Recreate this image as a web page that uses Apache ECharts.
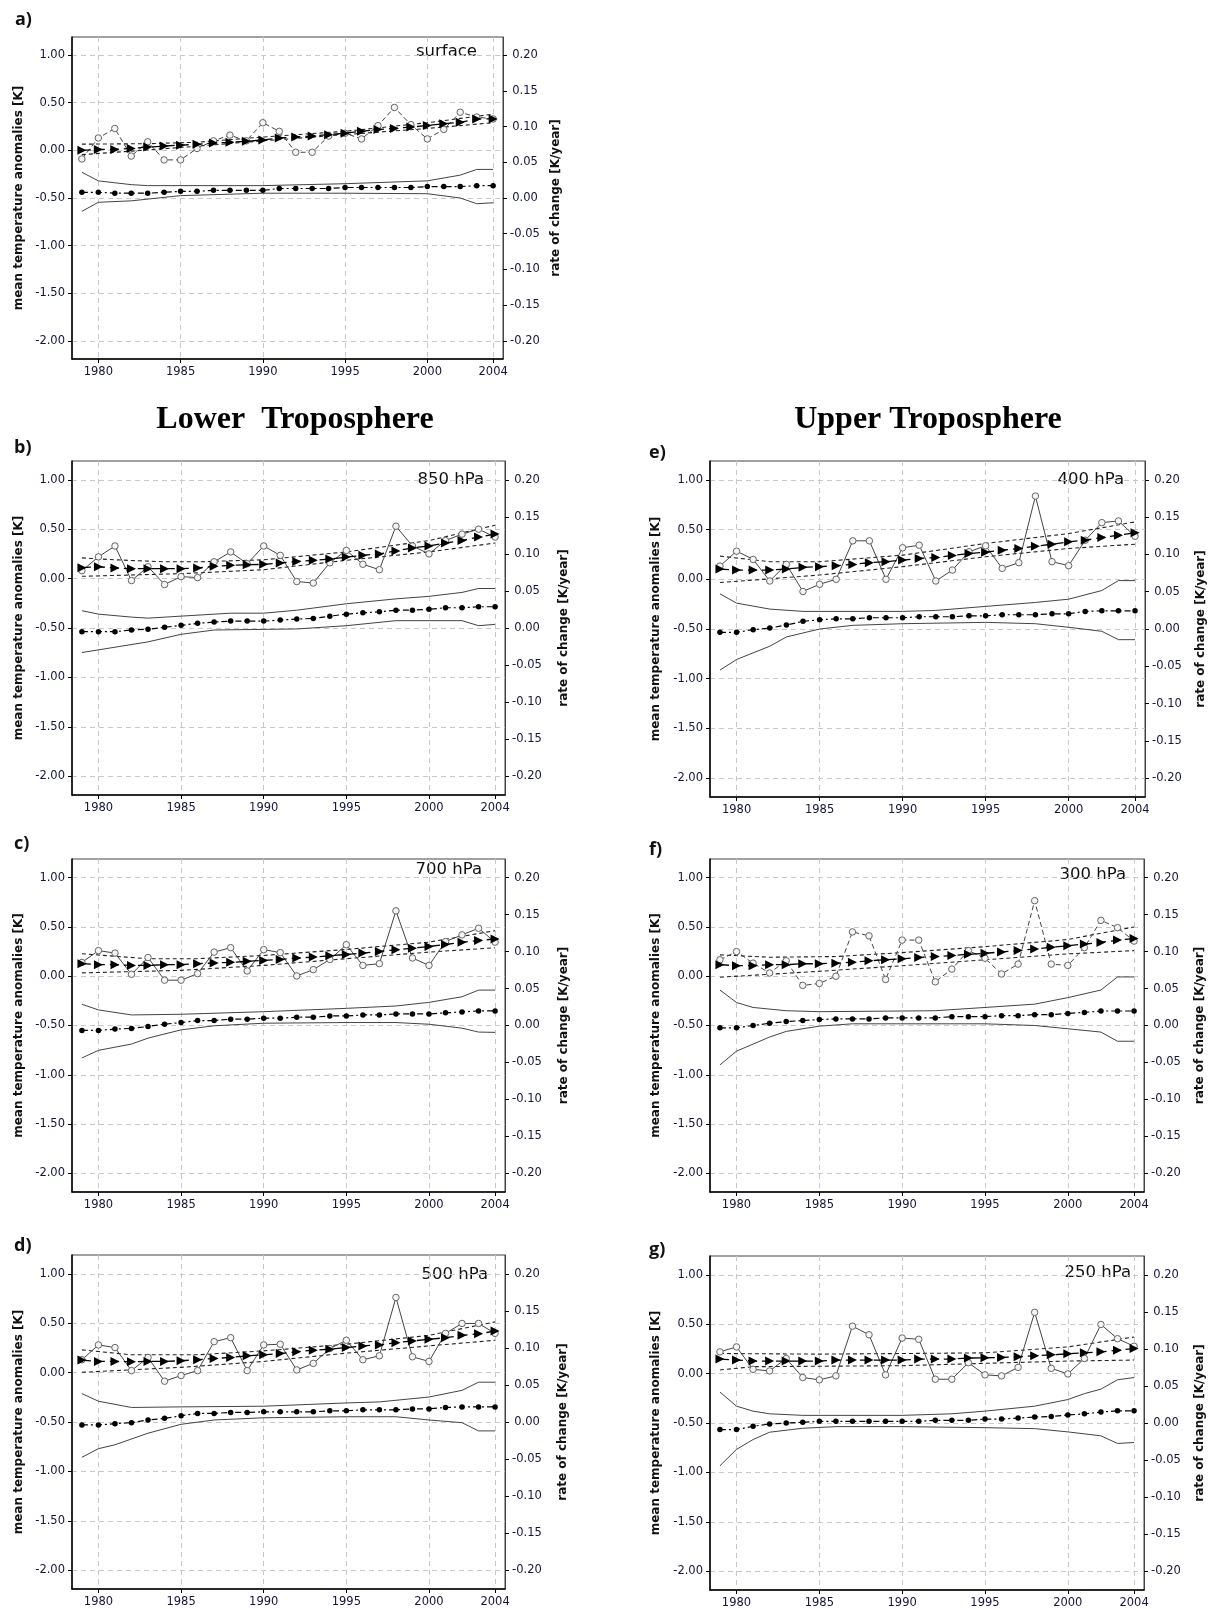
<!DOCTYPE html>
<html><head><meta charset="utf-8">
<script src="https://cdn.jsdelivr.net/npm/echarts@6/dist/echarts.min.js"></script>
<style>html,body{margin:0;padding:0;background:#fff}#c{width:1214px;height:1609px}</style>
</head><body><div id="c"></div>
<script>
// ---------- shared axes ----------
const years = [1979,1980,1981,1982,1983,1984,1985,1986,1987,1988,1989,1990,1991,1992,1993,1994,1995,1996,1997,1998,1999,2000,2001,2002,2003,2004];
const xTicks = [1980,1985,1990,1995,2000,2004];
const anomTicks = [-2,-1.5,-1,-0.5,0,0.5,1];
const rateTicks = [-0.2,-0.15,-0.1,-0.05,0,0.05,0.1,0.15,0.2];
const sectionTitles = ['Lower  Troposphere','Upper Troposphere'];
const levelNames = ['surface','850 hPa','700 hPa','500 hPa','400 hPa','300 hPa','250 hPa'];
const panelTags = ['a)','b)','c)','d)','e)','f)','g)'];

// ---------- a) surface ----------
const surfAnom = [-0.09,0.13,0.23,-0.06,0.09,-0.10,-0.10,0.02,0.10,0.16,0.10,0.29,0.20,-0.02,-0.02,0.15,0.18,0.12,0.26,0.45,0.27,0.12,0.22,0.40,0.35,0.33];
const surfTrend = [0.00,0.01,0.01,0.02,0.035,0.045,0.055,0.063,0.077,0.084,0.095,0.11,0.13,0.14,0.15,0.165,0.18,0.20,0.22,0.23,0.245,0.26,0.28,0.295,0.33,0.33];
const surfTrendUp = [[1979,0.065],[1983,0.07],[1986,0.085],[1990,0.14],[1995,0.2],[2000,0.29],[2004,0.38]];
const surfTrendLo = [[1979,-0.045],[1985,0.03],[1990,0.10],[1995,0.165],[2000,0.23],[2004,0.29]];
const surfRate = [0.008,0.008,0.0067,0.0067,0.0067,0.008,0.0093,0.0093,0.0107,0.0107,0.0107,0.0107,0.0133,0.0133,0.0133,0.0133,0.0147,0.0147,0.0147,0.0147,0.0147,0.016,0.016,0.016,0.0173,0.0173];
const surfRateUp = [[1979,0.036],[1980,0.024],[1981,0.0213],[1982,0.0187],[1983,0.0173],[1990,0.0173],[1995,0.02],[2000,0.024],[2002,0.032],[2003,0.04],[2004,0.04]];
const surfRateLo = [[1979,-0.0187],[1980,-0.006],[1982,-0.004],[1985,0.0033],[1990,0.0067],[1995,0.0067],[2000,0.006],[2002,0],[2003,-0.008],[2004,-0.0067]];

// ---------- b) 850 hPa ----------
const p850Anom = [0.08,0.22,0.33,-0.02,0.12,-0.06,0.02,0.01,0.17,0.27,0.15,0.33,0.235,-0.03,-0.045,0.16,0.285,0.145,0.09,0.53,0.33,0.25,0.385,0.45,0.50,0.42];
const p850Trend = [0.11,0.12,0.107,0.10,0.10,0.10,0.10,0.107,0.124,0.134,0.14,0.144,0.158,0.174,0.185,0.198,0.218,0.235,0.25,0.28,0.31,0.33,0.36,0.385,0.42,0.45];
const p850TrendUp = [[1979,0.21],[1981,0.19],[1984,0.17],[1986,0.17],[1990,0.19],[1995,0.27],[2000,0.385],[2004,0.54]];
const p850TrendLo = [[1979,0.023],[1985,0.05],[1990,0.09],[1995,0.185],[2000,0.27],[2004,0.36]];
const p850Rate = [-0.0049,-0.0049,-0.0049,-0.0027,-0.0017,0.0009,0.0036,0.0063,0.008,0.0093,0.0093,0.0093,0.0107,0.012,0.0129,0.016,0.0187,0.0205,0.0219,0.024,0.024,0.0253,0.0273,0.0273,0.0287,0.0287];
const p850RateUp = [[1979,0.0233],[1980,0.0187],[1982,0.0147],[1983,0.0133],[1985,0.016],[1988,0.02],[1990,0.02],[1992,0.024],[1995,0.0327],[1998,0.0393],[2000,0.0427],[2002,0.048],[2003,0.0533],[2004,0.0533]];
const p850RateLo = [[1979,-0.0331],[1983,-0.0187],[1985,-0.0085],[1987,-0.0027],[1992,-0.0013],[1995,0.0031],[1998,0.0099],[2002,0.0099],[2003,0.0031],[2004,0.0049]];

// ---------- c) 700 hPa ----------
const p700Anom = [0.14,0.26,0.235,0.02,0.19,-0.04,-0.04,0.027,0.245,0.29,0.054,0.27,0.24,0.003,0.067,0.17,0.32,0.11,0.128,0.664,0.185,0.11,0.352,0.42,0.487,0.346];
const p700Trend = [0.128,0.117,0.117,0.11,0.11,0.117,0.117,0.128,0.134,0.141,0.151,0.161,0.171,0.185,0.195,0.208,0.221,0.235,0.252,0.268,0.285,0.302,0.322,0.346,0.362,0.379];
const p700TrendUp = [[1979,0.228],[1983,0.178],[1986,0.178],[1990,0.211],[1995,0.272],[2000,0.346],[2004,0.463]];
const p700TrendLo = [[1979,0.034],[1985,0.06],[1990,0.11],[1995,0.178],[2000,0.245],[2004,0.289]];
const p700Rate = [-0.0067,-0.0067,-0.0049,-0.004,-0.0013,0.0017,0.004,0.0067,0.0067,0.0085,0.0085,0.0099,0.0099,0.0112,0.0112,0.0129,0.0129,0.0143,0.0143,0.0156,0.0156,0.0156,0.0171,0.0184,0.0197,0.0197];
const p700RateUp = [[1979,0.0287],[1980,0.0211],[1982,0.0143],[1985,0.0152],[1990,0.0187],[1995,0.0232],[1998,0.0264],[2000,0.0313],[2002,0.0389],[2003,0.0479],[2004,0.0479]];
const p700RateLo = [[1979,-0.0439],[1980,-0.0336],[1982,-0.0251],[1983,-0.0171],[1985,-0.0059],[1987,-0.0004],[1990,0.0031],[1995,0.004],[1998,0.004],[2000,0.0017],[2002,-0.0036],[2003,-0.0089],[2004,-0.0093]];

// ---------- d) 500 hPa ----------
const p500Anom = [0.13,0.28,0.253,0.02,0.153,-0.087,-0.03,0.02,0.313,0.353,0.02,0.28,0.287,0.027,0.093,0.243,0.327,0.13,0.17,0.76,0.16,0.113,0.397,0.497,0.497,0.397];
const p500Trend = [0.127,0.113,0.113,0.11,0.113,0.113,0.12,0.13,0.143,0.153,0.17,0.18,0.193,0.21,0.227,0.237,0.253,0.27,0.28,0.303,0.32,0.337,0.353,0.377,0.393,0.42];
const p500TrendUp = [[1979,0.23],[1982,0.18],[1986,0.18],[1990,0.22],[1995,0.287],[2000,0.377],[2004,0.513]];
const p500TrendLo = [[1979,0.003],[1985,0.053],[1990,0.113],[1995,0.197],[2000,0.27],[2004,0.327]];
const p500Rate = [-0.004,-0.004,-0.0023,-0.0009,0.0027,0.0049,0.0084,0.0116,0.0116,0.0129,0.0129,0.0137,0.0137,0.0137,0.0137,0.0151,0.0151,0.0164,0.0164,0.0164,0.0177,0.0177,0.0196,0.0204,0.0204,0.0204];
const p500RateUp = [[1979,0.0383],[1980,0.028],[1982,0.0196],[1985,0.0204],[1990,0.0213],[1995,0.0257],[1997,0.0271],[2000,0.0337],[2002,0.0427],[2003,0.0537],[2004,0.0537]];
const p500RateLo = [[1979,-0.0476],[1980,-0.036],[1981,-0.0307],[1983,-0.0151],[1985,-0.0031],[1987,0.0027],[1990,0.0057],[1995,0.0071],[1998,0.0071],[2000,0.0027],[2002,-0.0009],[2003,-0.012],[2004,-0.012]];

// ---------- e) 400 hPa ----------
const p400Anom = [0.133,0.283,0.20,-0.017,0.15,-0.123,-0.05,0.0,0.387,0.387,0.0,0.317,0.343,-0.017,0.093,0.277,0.337,0.11,0.167,0.837,0.177,0.137,0.393,0.57,0.587,0.433];
const p400Trend = [0.103,0.093,0.093,0.093,0.103,0.12,0.127,0.137,0.15,0.167,0.177,0.193,0.21,0.22,0.24,0.26,0.273,0.293,0.31,0.333,0.353,0.377,0.393,0.42,0.443,0.467];
const p400TrendUp = [[1979,0.233],[1982,0.177],[1985,0.177],[1990,0.243],[1995,0.36],[2000,0.46],[2004,0.577]];
const p400TrendLo = [[1979,-0.033],[1985,0.043],[1990,0.127],[1995,0.227],[2000,0.31],[2004,0.353]];
const p400Rate = [-0.0044,-0.0044,-0.0009,0.0013,0.0053,0.0103,0.0124,0.0137,0.0137,0.0151,0.0151,0.0151,0.0164,0.0164,0.0164,0.0177,0.0177,0.0191,0.0191,0.0191,0.0204,0.0204,0.0236,0.0244,0.0244,0.0244];
const p400RateUp = [[1979,0.0471],[1980,0.0347],[1982,0.0267],[1984,0.0236],[1990,0.0236],[1992,0.0249],[1995,0.0303],[1998,0.0356],[2000,0.04],[2002,0.0516],[2003,0.0649],[2004,0.0649]];
const p400RateLo = [[1979,-0.0551],[1980,-0.0409],[1982,-0.0231],[1983,-0.0107],[1985,0],[1987,0.0049],[1990,0.0071],[1995,0.0089],[1998,0.0071],[2000,0.0023],[2002,-0.0031],[2003,-0.0143],[2004,-0.0143]];

// ---------- f) 300 hPa ----------
const p300Anom = [0.167,0.25,0.133,0.033,0.157,-0.093,-0.073,0.0,0.45,0.41,-0.033,0.367,0.367,-0.057,0.073,0.26,0.183,0.023,0.123,0.767,0.123,0.11,0.29,0.567,0.493,0.357];
const p300Trend = [0.117,0.107,0.107,0.117,0.117,0.127,0.127,0.133,0.143,0.157,0.167,0.177,0.19,0.2,0.21,0.223,0.233,0.247,0.26,0.277,0.293,0.31,0.327,0.343,0.367,0.383];
const p300TrendUp = [[1979,0.217],[1982,0.193],[1986,0.2],[1990,0.24],[1995,0.30],[2000,0.373],[2004,0.50]];
const p300TrendLo = [[1979,-0.01],[1985,0.05],[1990,0.107],[1995,0.167],[2000,0.227],[2004,0.26]];
const p300Rate = [-0.0031,-0.0031,0,0.0031,0.0053,0.0067,0.008,0.0089,0.0089,0.0089,0.0103,0.0103,0.0103,0.0103,0.012,0.012,0.012,0.0133,0.0133,0.0147,0.0147,0.0164,0.0177,0.0196,0.0196,0.0196];
const p300RateUp = [[1979,0.048],[1980,0.0311],[1981,0.0244],[1983,0.02],[1985,0.0187],[1990,0.0196],[1992,0.02],[1995,0.0244],[1998,0.0289],[2000,0.0377],[2002,0.048],[2003,0.0657],[2004,0.0657]];
const p300RateLo = [[1979,-0.0533],[1980,-0.0347],[1982,-0.0156],[1983,-0.008],[1985,-0.0009],[1987,0.0023],[1990,0.0023],[1995,0.0023],[1998,0],[2000,-0.0044],[2002,-0.0089],[2003,-0.0213],[2004,-0.0213]];

// ---------- g) 250 hPa ----------
const p250Anom = [0.22,0.27,0.043,0.027,0.153,-0.04,-0.063,-0.023,0.48,0.393,-0.013,0.36,0.347,-0.057,-0.057,0.11,-0.013,-0.023,0.063,0.62,0.053,-0.003,0.153,0.497,0.353,0.277];
const p250Trend = [0.147,0.137,0.127,0.127,0.127,0.127,0.127,0.137,0.137,0.137,0.137,0.137,0.147,0.147,0.147,0.157,0.16,0.163,0.17,0.18,0.19,0.2,0.21,0.22,0.237,0.253];
const p250TrendUp = [[1979,0.203],[1985,0.197],[1990,0.203],[1995,0.21],[2000,0.27],[2004,0.37]];
const p250TrendLo = [[1979,0.037],[1981,0.07],[1990,0.08],[1995,0.104],[2000,0.127],[2004,0.137]];
const p250Rate = [-0.0089,-0.0089,-0.0044,-0.0013,0,0.0009,0.0023,0.0023,0.0023,0.0023,0.0023,0.0023,0.0023,0.0036,0.0036,0.0036,0.0053,0.0053,0.0067,0.008,0.0089,0.0107,0.0124,0.0147,0.0164,0.0164];
const p250RateUp = [[1979,0.0417],[1980,0.0227],[1981,0.016],[1982,0.0124],[1984,0.0103],[1990,0.0103],[1993,0.0124],[1995,0.016],[1998,0.0227],[2000,0.0316],[2001,0.0396],[2002,0.0457],[2003,0.0583],[2004,0.0613]];
const p250RateLo = [[1979,-0.0577],[1980,-0.0356],[1981,-0.0223],[1982,-0.0124],[1984,-0.0071],[1986,-0.0049],[1990,-0.0049],[1995,-0.0063],[1998,-0.0076],[2000,-0.012],[2002,-0.0173],[2003,-0.0276],[2004,-0.0263]];

const panelData = [
  [surfAnom, surfTrend, surfTrendUp, surfTrendLo, surfRate, surfRateUp, surfRateLo],
  [p850Anom, p850Trend, p850TrendUp, p850TrendLo, p850Rate, p850RateUp, p850RateLo],
  [p700Anom, p700Trend, p700TrendUp, p700TrendLo, p700Rate, p700RateUp, p700RateLo],
  [p500Anom, p500Trend, p500TrendUp, p500TrendLo, p500Rate, p500RateUp, p500RateLo],
  [p400Anom, p400Trend, p400TrendUp, p400TrendLo, p400Rate, p400RateUp, p400RateLo],
  [p300Anom, p300Trend, p300TrendUp, p300TrendLo, p300Rate, p300RateUp, p300RateLo],
  [p250Anom, p250Trend, p250TrendUp, p250TrendLo, p250Rate, p250RateUp, p250RateLo]
];

// ---------- layout (positions / styles) ----------
const layout = [
  {g:{left:72, top:37,  width:431, height:322}, lg:47, rg:47, tag:[15,20],   lvl:[477,52],   dashed:true},
  {g:{left:72, top:461, width:433, height:334}, lg:47, rg:53, tag:[14,448],  lvl:[484,480],  dashed:false},
  {g:{left:72, top:859, width:433, height:333}, lg:47, rg:53, tag:[14,844],  lvl:[482,870],  dashed:false},
  {g:{left:72, top:1255,width:433, height:334}, lg:47, rg:52, tag:[14,1246], lvl:[488,1275], dashed:false},
  {g:{left:710,top:461, width:435, height:336}, lg:48, rg:50, tag:[649,453], lvl:[1124,480], dashed:false},
  {g:{left:710,top:859, width:434, height:333}, lg:48, rg:50, tag:[649,850], lvl:[1126,875], dashed:true},
  {g:{left:710,top:1256,width:434, height:334}, lg:48, rg:50, tag:[649,1250],lvl:[1131,1273],dashed:false}
];

const FONT = 'DejaVu Sans';
const LABEL_COLOR = '#14143c';
const gridLine = {show:true, lineStyle:{type:[5,4], color:'#c8c8c8', width:1}};
const TRI = 'path://M0,0L10,5L0,10Z';

const grids = [], xAxes = [], yAxes = [], series = [], graphics = [];
layout.forEach((p, i) => {
  grids.push(Object.assign({show:true, borderColor:'#444', borderWidth:1, backgroundColor:'#fff'}, p.g));
  xAxes.push({
    type:'value', gridIndex:i, min:1978.4, max:2004.6,
    axisLine:{show:true, onZero:false, lineStyle:{color:'#000', width:1.5}},
    axisTick:{show:true, customValues:xTicks, length:4, lineStyle:{color:'#000'}},
    axisLabel:{customValues:xTicks, formatter:v=>String(v), color:LABEL_COLOR, fontFamily:FONT, fontSize:11.5, margin:7},
    splitLine:gridLine
  });
  yAxes.push({
    type:'value', gridIndex:i, position:'left', min:-2.19, max:1.19,
    axisLine:{show:true, onZero:false, lineStyle:{color:'#000', width:1.5}},
    axisTick:{show:true, customValues:anomTicks, length:4, lineStyle:{color:'#000'}},
    axisLabel:{customValues:anomTicks, formatter:v=>v.toFixed(2), color:LABEL_COLOR, fontFamily:FONT, fontSize:11.5, margin:7},
    splitLine:gridLine,
    name:'mean temperature anomalies [K]', nameLocation:'middle', nameGap:p.lg, nameRotate:90,
    nameTextStyle:{fontFamily:FONT, fontWeight:'bold', fontSize:12, color:'#111'}
  });
  yAxes.push({
    type:'value', gridIndex:i, position:'right', min:-0.2253, max:0.2253,
    axisLine:{show:true, onZero:false, lineStyle:{color:'#444', width:1}},
    axisTick:{show:true, customValues:rateTicks, length:4, lineStyle:{color:'#000'}},
    axisLabel:{customValues:rateTicks, formatter:v=>v.toFixed(2), color:LABEL_COLOR, fontFamily:FONT, fontSize:11.5, margin:22, align:'center'},
    splitLine:{show:false},
    name:'rate of change [K/year]', nameLocation:'middle', nameGap:p.rg, nameRotate:90,
    nameTextStyle:{fontFamily:FONT, fontWeight:'bold', fontSize:12, color:'#111'}
  });

  const [anom, trend, tUp, tLo, rate, rUp, rLo] = panelData[i];
  const L = 2*i, R = 2*i+1;
  const base = {type:'line', xAxisIndex:i, silent:true, animation:false};
  const band = {symbol:'none', lineStyle:{color:'#222', width:1.1, type:[4,3]}};
  series.push(Object.assign({}, base, band, {yAxisIndex:L, data:tUp, z:2}));
  series.push(Object.assign({}, base, band, {yAxisIndex:L, data:tLo, z:2}));
  series.push(Object.assign({}, base, {
    yAxisIndex:L, data:years.map((y,k)=>[y, anom[k]]), z:3,
    symbol:'circle', symbolSize:6.5, showAllSymbol:true,
    itemStyle:{color:'#f4f4f4', borderColor:'#666', borderWidth:1},
    lineStyle:{color:'#444', width:1, type:p.dashed ? [5,3] : 'solid'}
  }));
  series.push(Object.assign({}, base, {
    yAxisIndex:L, data:years.map((y,k)=>[y, trend[k]]), z:4,
    symbol:TRI, symbolSize:[9,9], showAllSymbol:true,
    itemStyle:{color:'#000'},
    lineStyle:{color:'#000', width:1.3, type:[9,5]}
  }));
  const rband = {symbol:'none', lineStyle:{color:'#444', width:1, type:'solid'}};
  series.push(Object.assign({}, base, rband, {yAxisIndex:R, data:rUp, z:2}));
  series.push(Object.assign({}, base, rband, {yAxisIndex:R, data:rLo, z:2}));
  series.push(Object.assign({}, base, {
    yAxisIndex:R, data:years.map((y,k)=>[y, rate[k]]), z:4,
    symbol:'circle', symbolSize:5.5, showAllSymbol:true,
    itemStyle:{color:'#000'},
    lineStyle:{color:'#000', width:1.2, type:[6,3,2,3]}
  }));

  graphics.push({type:'text', x:p.tag[0], y:p.tag[1], silent:true,
    style:{text:panelTags[i], font:'bold 18px "Open Sans"', fill:'#111', align:'left', verticalAlign:'middle', textAlign:'left', textVerticalAlign:'middle'}});
  graphics.push({type:'text', x:p.lvl[0], y:p.lvl[1], silent:true,
    style:{text:levelNames[i], font:'16.5px "DejaVu Sans"', fill:'#111', align:'right', verticalAlign:'middle', textAlign:'right', textVerticalAlign:'middle'}});
});

const titlePos = [[295,420],[928,420]];
sectionTitles.forEach((t, k) => {
  graphics.push({type:'text', x:titlePos[k][0], y:titlePos[k][1], silent:true,
    style:{text:t, font:'bold 32px "Liberation Serif"', fill:'#000', align:'center', verticalAlign:'middle', textAlign:'center', textVerticalAlign:'middle'}});
});

const chart = echarts.init(document.getElementById('c'), null, {renderer:'canvas'});
chart.setOption({
  animation:false,
  backgroundColor:'#fff',
  grid:grids, xAxis:xAxes, yAxis:yAxes, series:series,
  graphic:{elements:graphics}
});
</script>
</body></html>
